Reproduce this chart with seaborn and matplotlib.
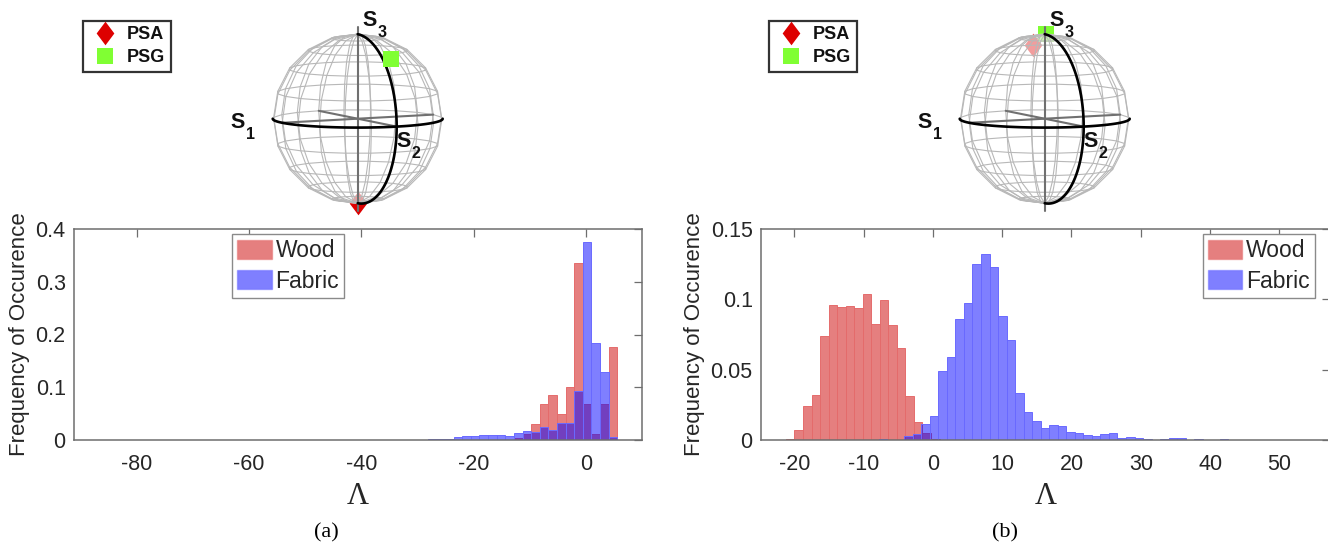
import numpy as np
import matplotlib
matplotlib.use("Agg")
import matplotlib.pyplot as plt
from matplotlib.lines import Line2D
from matplotlib.patches import Patch, Circle
import seaborn as sns

# ------------------------------
# Data
# ------------------------------
# panel (a), bars run left to right, first 38 bins are almost nothing
a_start = -86.5
a_width = 1.535
a_wood = [0.0002] * 38 + [0, 0, 0, 0, 0, 0, 0, 0, 0, 0.0005,
          0.003, 0.011, 0.031, 0.068, 0.085, 0.05, 0.10, 0.335, 0.068, 0.011, 0.069, 0.176]
a_fabric = [0.0003] * 38 + [0.002, 0.001, 0.0015, 0.005, 0.008, 0.007, 0.0095, 0.0095, 0.010, 0.008,
            0.014, 0.018, 0.016, 0.025, 0.019, 0.032, 0.033, 0.092, 0.375, 0.184, 0.128, 0.005]

# panel (b)
b_wood_start = -21.2
b_fabric_start = -7.83
b_width = 1.231
b_wood = [0.001, 0.0073, 0.0243, 0.0317, 0.0742, 0.0962, 0.0943, 0.0953, 0.0936, 0.1035,
          0.0825, 0.0993, 0.0816, 0.0657, 0.031, 0.0125, 0.005, 0.0007]
b_fabric = [0.001, 0, 0, 0.0026, 0.0043, 0.0116, 0.0173, 0.0487, 0.0593, 0.0858,
            0.0972, 0.1253, 0.1324, 0.1227, 0.0882, 0.0712, 0.0333, 0.0196, 0.0132, 0.0083,
            0.0106, 0.0099, 0.0057, 0.005, 0.0038, 0.0031, 0.004, 0.005, 0.0017, 0.0024,
            0.0014, 0.0007, 0, 0.0007, 0.0017, 0.0017, 0, 0.001, 0, 0,
            0.001, 0.0001, 0.0001, 0.0001, 0.0001, 0.0001, 0.0001, 0.0001, 0.0001, 0.0001]

a_xticks = [-80, -60, -40, -20, 0]
a_yticks = [0, 0.1, 0.2, 0.3, 0.4]
a_ylabels = ["0", "0.1", "0.2", "0.3", "0.4"]
b_xticks = [-20, -10, 0, 10, 20, 30, 40, 50]
b_yticks = [0, 0.05, 0.1, 0.15]
b_ylabels = ["0", "0.05", "0.1", "0.15"]

# polarization states as (S1, S2, S3)
a_psa = (0, 0, -1)
a_psg = (-0.11, 0.64, 0.76)
b_psa = (-0.13, -0.56, 0.81)
b_psg = (-0.09, -0.14, 0.985)

W, H = 1328, 545
RED = "#cc0000"
BLUE = "#0000ff"
RED_EDGE = "#e56c6c"
BLUE_EDGE = "#6a6aff"
GREEN = "#80ff33"
DARK = "#262626"
SPINE = "#6e6e6e"
DIAMOND = [(0, 1), (0.75, 0), (0, -1), (-0.75, 0), (0, 1)]

ELEV = np.radians(6)
AZIM = np.radians(27.3)


def box(x0, y0, x1, y1):
    # pixel box (y down) to figure fractions
    return [x0 / W, 1 - y1 / H, (x1 - x0) / W, (y1 - y0) / H]


def project(s1, s2, s3):
    s1, s2, s3 = np.asarray(s1, float), np.asarray(s2, float), np.asarray(s3, float)
    x = -np.cos(AZIM) * s1 + np.sin(AZIM) * s2
    d = np.sin(AZIM) * s1 + np.cos(AZIM) * s2
    y = s3 * np.cos(ELEV) - d * np.sin(ELEV)
    return x, y


def facing_viewer(s1, s2, s3):
    d = np.sin(AZIM) * s1 + np.cos(AZIM) * s2
    return d * np.cos(ELEV) + s3 * np.sin(ELEV) > 0


def draw_sphere(fig, cx, cy, psa, psg):
    r = 85
    ax = fig.add_axes(box(cx - 1.3 * r, cy - 1.3 * r, cx + 1.3 * r, cy + 1.3 * r))
    ax.set_xlim(-1.3, 1.3)
    ax.set_ylim(-1.3, 1.3)
    ax.axis("off")

    # markers on the far side sit under a see-through sphere face
    for p, marker, color, ms in [(psa, DIAMOND, "#dd0000", 17), (psg, "s", GREEN, 11)]:
        x, y = project(*p)
        z = 6 if facing_viewer(*p) else 1
        ax.plot([x], [y], marker=marker, color=color, ms=ms, mew=0, ls="none", zorder=z, clip_on=False)
    ax.add_patch(Circle((0, 0), 1.0, fc="white", ec="none", alpha=0.62, zorder=2))

    # faceted wire frame, 18 degree steps
    lon = np.radians(np.arange(0, 361, 18))
    lat = np.radians(np.arange(-90, 91, 18))
    for la in lat[1:-1]:
        x, y = project(np.cos(la) * np.cos(lon), np.cos(la) * np.sin(lon), np.sin(la) * np.ones_like(lon))
        ax.plot(x, y, color="#b8b8b8", lw=0.8, zorder=3)
    for lo in lon[:-1]:
        x, y = project(np.cos(lat) * np.cos(lo), np.cos(lat) * np.sin(lo), np.sin(lat))
        ax.plot(x, y, color="#b8b8b8", lw=0.8, zorder=3)

    # axes of the sphere
    for a, b in [((-1, 0, 0), (1, 0, 0)), ((0, -1, 0), (0, 1, 0)), ((0, 0, -1.09), (0, 0, 1.09))]:
        x, y = project(*zip(a, b))
        ax.plot(x, y, color="#707070", lw=1.5, zorder=4, clip_on=False)

    # black great circles, front half only
    t = np.linspace(-AZIM, np.pi - AZIM, 61)
    x, y = project(np.cos(t), np.sin(t), np.zeros_like(t))
    ax.plot(x, y, color="black", lw=1.9, zorder=5)
    t2 = np.radians(np.linspace(-90, 90, 61))
    x, y = project(np.zeros_like(t2), np.cos(t2), np.sin(t2))
    ax.plot(x, y, color="black", lw=1.9, zorder=5)

    # S labels, sit at fixed offsets from the sphere centre
    for name, dx, dy in [("1", -120, 3.5), ("2", 45.5, 22.5), ("3", 11.5, -98)]:
        fig.text((cx + dx) / W, 1 - (cy + dy) / H, "S", fontsize=15.5, fontweight="bold", color="#111111",
                 ha="center", va="center")
        fig.text((cx + dx + 12.5) / W, 1 - (cy + dy + 12) / H, name, fontsize=11.5, fontweight="bold",
                 color="#111111", ha="center", va="center")


def draw_marker_legend(fig, x0, y0):
    handles = [Line2D([], [], marker=DIAMOND, color="#dd0000", ms=17, mew=0, ls="none"),
               Line2D([], [], marker="s", color=GREEN, ms=11, mew=0, ls="none")]
    leg = fig.legend(handles, ["PSA", "PSG"], loc="upper left", bbox_to_anchor=(x0 / W, 1 - y0 / H),
                     borderaxespad=0, fancybox=False, framealpha=1, edgecolor="#333333",
                     prop={"size": 13, "weight": "bold"}, labelspacing=0.33, borderpad=0.3,
                     handlelength=1.85, handletextpad=0.31)
    leg.get_frame().set_linewidth(1.6)
    for t in leg.get_texts():
        t.set_color("#111111")


def draw_hist(ax, start, width, values, color, edge):
    edges = start + width * np.arange(len(values) + 1)
    centers = edges[:-1] + width / 2
    sns.histplot(x=centers, weights=values, bins=edges.tolist(), color=color, alpha=0.5, edgecolor=edge,
                 linewidth=0.7, ax=ax)


def finish_axes(ax, xlim, ylim, xticks, yticks, ylabels, legend_px):
    ax.set_xlim(*xlim)
    ax.set_ylim(*ylim)
    ax.set_xticks(xticks)
    ax.set_xticklabels([str(v) for v in xticks])
    ax.set_yticks(yticks)
    ax.set_yticklabels(ylabels)
    ax.tick_params(direction="in", top=True, right=True, length=5.5, width=0.9, color=SPINE,
                   labelsize=15.5, labelcolor=DARK)
    ax.tick_params(axis="x", pad=10)
    ax.tick_params(axis="y", pad=6)
    for s in ax.spines.values():
        s.set_visible(True)
        s.set_color(SPINE)
        s.set_linewidth(1.1)
    ax.set_ylabel("Frequency of Occurence", fontsize=16, color=DARK)
    ax.set_xlabel("\u039b", fontsize=22, family="Liberation Serif", color=DARK, labelpad=5)

    handles = [Patch(fc=RED, ec=RED_EDGE, alpha=0.5), Patch(fc=BLUE, ec=BLUE_EDGE, alpha=0.5)]
    leg = ax.legend(handles, ["Wood", "Fabric"], loc="upper left", fontsize=16.5,
                    bbox_to_anchor=(legend_px[0] / W, 1 - legend_px[1] / H), bbox_transform=ax.figure.transFigure,
                    borderaxespad=0, fancybox=False, framealpha=1, edgecolor="#8a8a8a",
                    handlelength=1.5, handleheight=0.9, handletextpad=0.17, labelspacing=0.32, borderpad=0.22)
    leg.get_frame().set_linewidth(1.0)
    for t in leg.get_texts():
        t.set_color(DARK)


def main():
    sns.set_theme(style="white")
    plt.rcParams["font.family"] = ["Liberation Sans", "DejaVu Sans"]

    fig = plt.figure(figsize=(W / 100, H / 100), dpi=100)

    # ------------------------------
    # Spheres
    # ------------------------------
    draw_sphere(fig, 357.7, 118.7, a_psa, a_psg)
    draw_sphere(fig, 1044.7, 118.7, b_psa, b_psg)
    draw_marker_legend(fig, 82.7, 21)
    draw_marker_legend(fig, 768.5, 21)

    # ------------------------------
    # Histograms
    # ------------------------------
    ax1 = fig.add_axes(box(74, 229, 642, 440))
    draw_hist(ax1, a_start, a_width, a_wood, RED, RED_EDGE)
    draw_hist(ax1, a_start, a_width, a_fabric, BLUE, BLUE_EDGE)
    finish_axes(ax1, (-91.2, 10), (0, 0.4), a_xticks, a_yticks, a_ylabels, (232.3, 234.3))

    # right side of this box falls just off the canvas
    ax2 = fig.add_axes(box(761, 229, 1330, 440))
    draw_hist(ax2, b_wood_start, b_width, b_wood, RED, RED_EDGE)
    draw_hist(ax2, b_fabric_start, b_width, b_fabric, BLUE, BLUE_EDGE)
    finish_axes(ax2, (-24.8, 57.3), (0, 0.15), b_xticks, b_yticks, b_ylabels, (1202.7, 234.3))

    fig.text(326 / W, 1 - 533 / H, "(a)", fontsize=16, family="Liberation Serif", color="black",
             ha="center", va="center")
    fig.text(1005 / W, 1 - 533 / H, "(b)", fontsize=16, family="Liberation Serif", color="black",
             ha="center", va="center")

    fig.savefig("out.png", dpi=100)
    plt.close(fig)


if __name__ == "__main__":
    main()
